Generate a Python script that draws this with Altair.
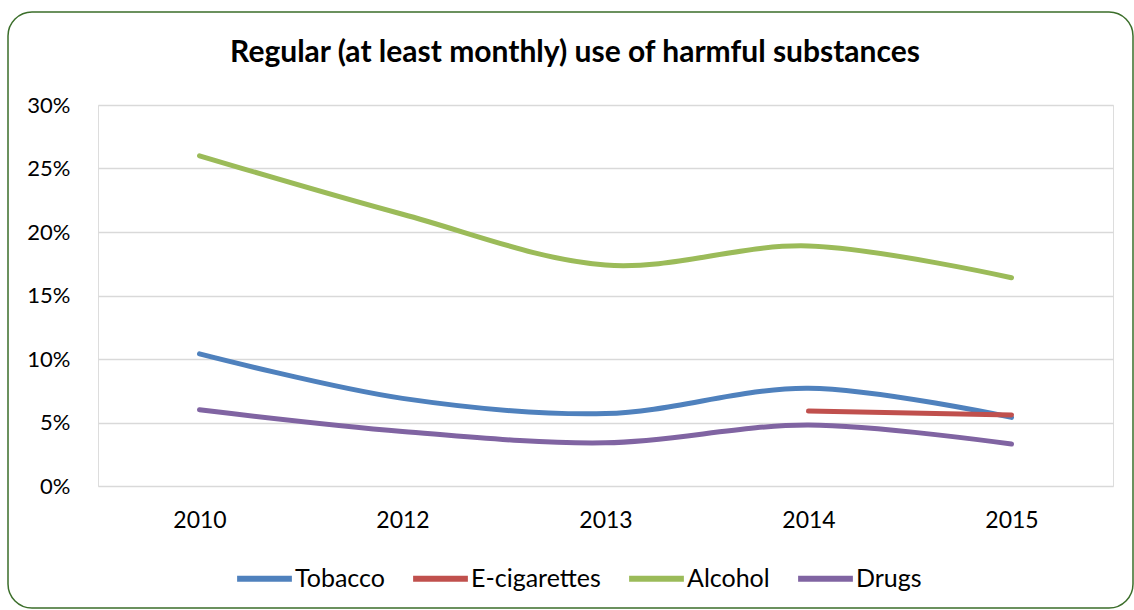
import altair as alt
import pandas as pd

years = ["2010", "2012", "2013", "2014", "2015"]
series = ["Tobacco", "E-cigarettes", "Alcohol", "Drugs"]
colors = ["#4f81bd", "#c0504d", "#9bbb59", "#8064a2"]

tobacco = [0.104, 0.069, 0.057, 0.077, 0.054]
ecigarettes = [None, None, None, 0.059, 0.056]
alcohol = [0.260, 0.214, 0.174, 0.189, 0.164]
drugs = [0.060, 0.043, 0.034, 0.048, 0.033]

title_text = "Regular (at least monthly) use of harmful substances"

rows = []
for name, vals in zip(series, [tobacco, ecigarettes, alcohol, drugs]):
    for yr, v in zip(years, vals):
        if v is not None:
            rows.append({"year": yr, "substance": name, "share": v})
df = pd.DataFrame(rows)

FONT = "Lato"
W, H = 1015, 381

lines = alt.Chart(df).mark_line(
    strokeWidth=5, strokeCap="round", interpolate="catmull-rom"
).encode(
    x=alt.X("year:O", sort=years,
            scale=alt.Scale(type="point", padding=0.5),
            axis=alt.Axis(title=None, labelAngle=0, ticks=False, domain=False,
                          grid=False, labelPadding=23, labelFontSize=23,
                          labelColor="#000000", labelFont=FONT)),
    y=alt.Y("share:Q", scale=alt.Scale(domain=[0, 0.30]),
            axis=alt.Axis(title=None, format=".0%",
                          values=[0, 0.05, 0.10, 0.15, 0.20, 0.25, 0.30],
                          ticks=False, domain=False, grid=True,
                          gridColor="#d9d9d9", gridWidth=1.5,
                          labelPadding=28, labelFontSize=22,
                          labelColor="#000000", labelFont=FONT)),
    color=alt.Color("substance:N", sort=series,
                    scale=alt.Scale(domain=series, range=colors),
                    legend=alt.Legend(title=None, orient="none",
                                      direction="horizontal",
                                      legendX=136, legendY=443,
                                      symbolType="stroke", symbolSize=3000,
                                      symbolStrokeWidth=6,
                                      labelFontSize=25, labelFont=FONT,
                                      labelColor="#000000", labelOffset=0,
                                      columnPadding=16)),
)

# rounded outline around the whole chart
frame = alt.Chart(pd.DataFrame({"k": [0]})).mark_rect(
    fill=None, stroke="#3b6e2a", strokeWidth=1.5, cornerRadius=24
).encode(
    x=alt.value(-90), x2=alt.value(1035),
    y=alt.value(-93), y2=alt.value(503),
)

heading = alt.Chart(pd.DataFrame({"t": [title_text]})).mark_text(
    font=FONT, fontSize=30, fontWeight="bold", color="#000000",
    align="center", baseline="middle",
).encode(
    x=alt.value(477), y=alt.value(-52), text="t:N",
)

chart = alt.layer(frame, lines, heading).properties(
    width=W, height=H,
    autosize=alt.AutoSizeParams(type="none"),
    padding={"left": 98, "right": 21, "top": 105, "bottom": 124},
).configure_view(stroke=None).configure(background="#ffffff")

chart.save("out.html", embed_options={"renderer": "svg", "actions": False})
